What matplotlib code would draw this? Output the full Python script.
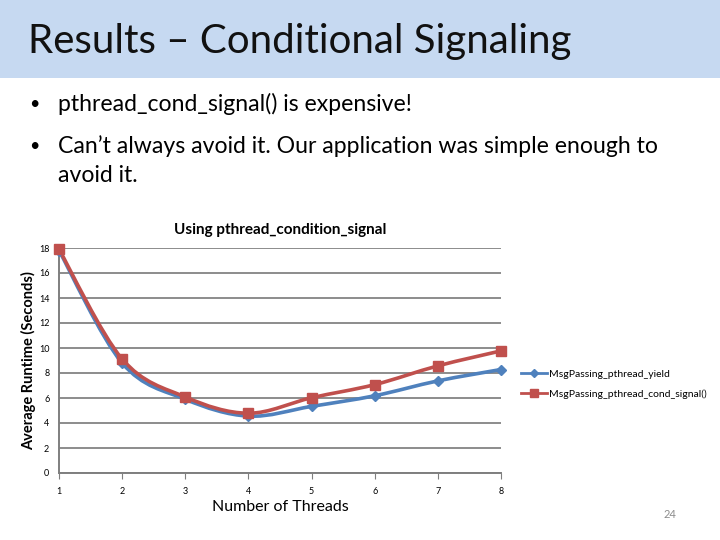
import numpy as np
import matplotlib
matplotlib.use("Agg")
import matplotlib.pyplot as plt
from matplotlib.path import Path
from matplotlib.patches import PathPatch, Rectangle
from matplotlib.lines import Line2D

threads = [1, 2, 3, 4, 5, 6, 7, 8]
yield_times = [17.8, 8.8, 5.9, 4.55, 5.33, 6.18, 7.37, 8.28]
cond_times = [17.9, 9.12, 6.08, 4.78, 6.02, 7.07, 8.57, 9.77]
series_names = ["MsgPassing_pthread_yield", "MsgPassing_pthread_cond_signal()"]
yticks = [0, 2, 4, 6, 8, 10, 12, 14, 16, 18]

plt.rcParams['font.family'] = ['Lato', 'DejaVu Sans']

fig = plt.figure(figsize=(7.2, 5.4), dpi=100)
fig.patch.set_facecolor('white')

# header band
fig.patches.append(Rectangle((0, 1 - 78 / 540), 1, 78 / 540, transform=fig.transFigure,
                             facecolor='#C6D9F1', edgecolor='none', zorder=0))
fig.text(28 / 720, 1 - 42 / 540, "Results – Conditional Signaling", fontsize=29,
         va='center', ha='left', color='#111111')

fig.text(34 / 720, 1 - 104 / 540, "•", fontsize=13, va='center', ha='center')
fig.text(58 / 720, 1 - 104 / 540, "pthread_cond_signal() is expensive!", fontsize=16.6, va='center')
fig.text(34 / 720, 1 - 146 / 540, "•", fontsize=13, va='center', ha='center')
fig.text(58 / 720, 1 - 146 / 540, "Can’t always avoid it. Our application was simple enough to",
         fontsize=16.6, va='center')
fig.text(58 / 720, 1 - 176 / 540, "avoid it.", fontsize=16.6, va='center')

ax = fig.add_axes([59 / 720, 1 - 473 / 540, (501 - 59) / 720, (473 - 248) / 540])
ax.set_xlim(1, 8)
ax.set_ylim(0, 18)
ax.set_yticks(yticks)
ax.set_xticks(threads)
ax.yaxis.grid(True, color='#8C8C8C', linewidth=1.4)
ax.set_axisbelow(True)
for s in ['top', 'right']:
    ax.spines[s].set_visible(False)
ax.spines['left'].set_color('#7F7F7F')
ax.spines['bottom'].set_color('#7F7F7F')
ax.spines['left'].set_linewidth(1.4)
ax.spines['bottom'].set_linewidth(1.4)
ax.tick_params(axis='y', length=0, labelsize=6.5, pad=7)
ax.tick_params(axis='x', length=4, color='#7F7F7F', labelsize=6.5, pad=6)


def smooth_path(xs, ys):
    # Bezier smoothing (Catmull-Rom style) of the polyline through the data
    pts = np.column_stack([xs, ys]).astype(float)
    verts = [pts[0]]
    codes = [Path.MOVETO]
    n = len(pts)
    for i in range(n - 1):
        p0 = pts[i - 1] if i > 0 else pts[i]
        p1 = pts[i]
        p2 = pts[i + 1]
        p3 = pts[i + 2] if i + 2 < n else pts[i + 1]
        c1 = p1 + (p2 - p0) / 6.0
        c2 = p2 - (p3 - p1) / 6.0
        verts += [c1, c2, p2]
        codes += [Path.CURVE4] * 3
    return Path(verts, codes)


colors = ['#4F81BD', '#C0504D']
markers = ['D', 's']
msizes = [5, 7]
for ys, c, m, ms in zip([yield_times, cond_times], colors, markers, msizes):
    ax.add_patch(PathPatch(smooth_path(threads, ys), facecolor='none', edgecolor=c,
                           linewidth=2.6, zorder=3, clip_on=False))
    ax.plot(threads, ys, linestyle='none', marker=m, color=c, markersize=ms, zorder=4,
            clip_on=False)

ax.set_title("Using pthread_condition_signal", fontsize=11, fontweight='bold', pad=10)
ax.set_ylabel("Average Runtime (Seconds)", fontsize=10.5, fontweight='bold', labelpad=2)
ax.set_xlabel("Number of Threads", fontsize=11.5, labelpad=3)

handles = [Line2D([0], [0], color=c, marker=m, markersize=ms - 1, linewidth=2)
           for c, m, ms in zip(colors, markers, msizes)]
fig.legend(handles, series_names, loc='upper left', bbox_to_anchor=(512 / 720, 1 - 360 / 540),
           frameon=False, fontsize=7.5, handlelength=2.5, handletextpad=0.2, labelspacing=1.0)

fig.text(670 / 720, 1 - 515 / 540, "24", fontsize=8, color='#8C8C8C', ha='center', va='center')

fig.savefig("out.png", dpi=100)
